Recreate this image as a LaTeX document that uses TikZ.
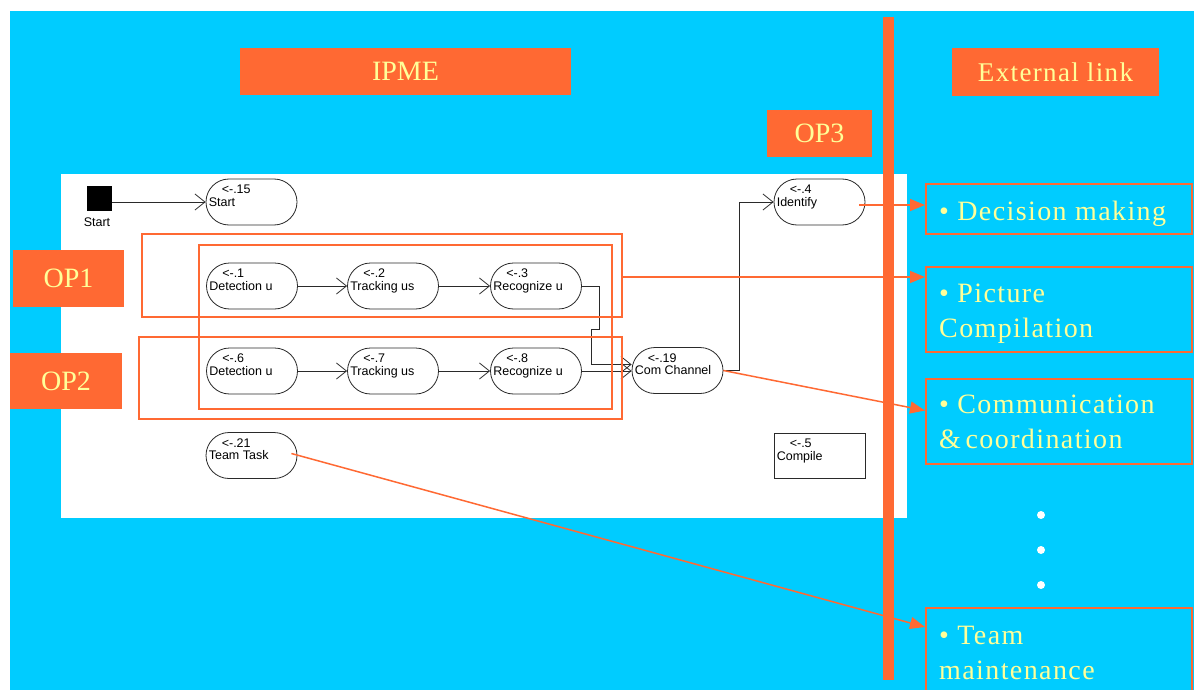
\documentclass[tikz,border=0pt]{standalone}
\usepackage{fontspec}
\setmainfont{Liberation Serif}
\newfontfamily\lsans{Liberation Sans}
\newfontfamily\spacedserif[LetterSpace=5]{Liberation Serif}
\usetikzlibrary{shapes.misc,arrows.meta,calc}
\definecolor{bgblue}{HTML}{00CCFF}
\definecolor{org}{HTML}{FF6933}
\definecolor{ylw}{HTML}{FFFF99}
\definecolor{ink}{HTML}{2A2A2A}
\tikzset{
 act/.style={rounded rectangle, draw=ink, line width=0.8pt, minimum width=91pt, minimum height=46pt, inner sep=0pt},
 actbox/.style={rectangle, draw=ink, line width=0.8pt, minimum width=91pt, minimum height=45pt, inner sep=0pt},
 lbl/.style={inner sep=0pt, anchor=base west, font=\lsans\fontsize{12.5}{13}\selectfont, text=black},
 blk/.style={draw=ink, line width=0.8pt, -{Straight Barb[length=10pt,width=16pt,line width=0.8pt]}},
 region/.style={draw=org, line width=2pt, inner sep=0pt},
 tag/.style={fill=org, text=ylw, font=\fontsize{28}{30}\selectfont, inner sep=0pt},
 rbox/.style={draw=org, line width=2pt, minimum width=266pt, inner sep=0pt},
 rtext/.style={text=ylw, font=\spacedserif\fontsize{28}{35}\selectfont, inner sep=0pt, anchor=base west, align=left},
 oarrow/.style={draw=org, line width=1.5pt, -{Triangle[length=15pt,width=12pt]}},
}
\newcommand\actnode[5]{%
 \node[#2] (#1) at (#3) {};
 \node[lbl] (#1n) at ($(#1.west |- #1.north)+(16,15)$) {#4};
 \node[lbl] (#1t) at ($(#1.west |- #1.north)+(3,27.5)$) {#5};
}
\begin{document}
\begin{tikzpicture}[x=1pt,y=-1pt]
\useasboundingbox (0,0) rectangle (1194,690);
\fill[white] (0,0) rectangle (1194,690);
\fill[bgblue] (10,11) rectangle (1194,690);
\fill[white] (61,174) rectangle (907,518);

% title tags
\node[tag, minimum width=331pt, minimum height=47pt] (ipme) at (405.5,71.5) {IPME};
\node[tag, minimum width=105pt, minimum height=47pt] (op3) at (819.5,133.5) {OP3};
\node[tag, minimum width=207pt, minimum height=48pt, font=\spacedserif\fontsize{27}{30}\selectfont] (ext) at (1055.5,72) {External link};

% start square
\node[fill=black, minimum size=25pt, inner sep=0pt] (sq) at (99.5,198.5) {};
\node[lbl, anchor=center] (sqlbl) at (97,222) {Start};

% activities
\actnode{st}{act}{251.5,202}{<-.15}{Start}
\actnode{d1}{act}{252,286}{<-.1}{Detection u}
\actnode{t1}{act}{393,286}{<-.2}{Tracking us}
\actnode{r1}{act}{536,286}{<-.3}{Recognize u}
\actnode{d2}{act}{252,371}{<-.6}{Detection u}
\actnode{t2}{act}{393,371}{<-.7}{Tracking us}
\actnode{r2}{act}{536,371}{<-.8}{Recognize u}
\actnode{cc}{act}{677.5,370.5}{<-.19}{Com Channel}
\actnode{id}{act}{819.5,202}{<-.4}{Identify}
\actnode{tt}{act}{251.5,455.5}{<-.21}{Team Task}
\actnode{comp}{actbox}{819.5,455.5}{<-.5}{Compile}

% black connectors
\draw[blk] (sq.east |- st.west) -- (st.west);
\draw[blk] (d1.east) -- (t1.west);
\draw[blk] (t1.east) -- (r1.west);
\draw[blk] (d2.east) -- (t2.west);
\draw[blk] (t2.east) -- (r2.west);
\draw[blk] (r1.east) -- ++(17,0) -- ++(0,43) -- ++(-8,0) |- ($(cc.west)+(0,-6)$);
\draw[blk] (r2.east) -- (r2.east -| cc.west);
\draw[blk] (cc.east) -- ++(16,0) |- (id.west);

% OP regions
\node[region, minimum width=480pt, minimum height=83pt] (op1r) at (382,275.5) {};
\node[region, minimum width=413pt, minimum height=164pt] (inr) at (405.5,327) {};
\node[region, minimum width=483pt, minimum height=82pt] (op2r) at (380.5,378) {};
\node[tag, minimum width=111pt, minimum height=57pt] (op1) at (68.5,278.5) {OP1};
\node[tag, minimum width=112pt, minimum height=56pt] (op2) at (66,381) {OP2};

% right boxes
\node[rbox, minimum height=50pt] (b1) at (1059,209) {};
\node[rbox, minimum height=85pt] (b2) at (1059,309.5) {};
\node[rbox, minimum height=85pt] (b3) at (1059,421.5) {};
\node[rbox, minimum height=92pt] (b4) at (1059,654) {};
\node[rtext] (b1t) at (939,220) {\textbullet\ Decision making};
\node[rtext] (b2t) at (939,337) {\textbullet\ Picture\\Compilation};
\node[rtext] (b3t) at (939,448) {\textbullet\ Communication\\\&\,coordination};
\node[rtext] (b4t) at (939,679) {\textbullet\ Team\\maintenance};

% dots
\fill[white] (1041,515) circle (4pt);
\fill[white] (1041,550) circle (4pt);
\fill[white] (1041,585) circle (4pt);

% orange arrows
\draw[oarrow] ($(id.east)+(-6,3)$) -- ($(id.east -| b1.west)+(0,3)$);
\draw[oarrow] ($(op1r.east)+(0,1.5)$) -- ($(op1r.east -| b2.west)+(0,1.5)$);
\draw[oarrow] (cc.east) -- ($(b3.west)+(0,-11)$);
\draw[oarrow] ($(tt.east)+(-6,-2)$) -- ($(b4.north west)+(0,20)$);

% vertical bar
\fill[org] (883,17) rectangle (894,680);
\end{tikzpicture}
\end{document}
